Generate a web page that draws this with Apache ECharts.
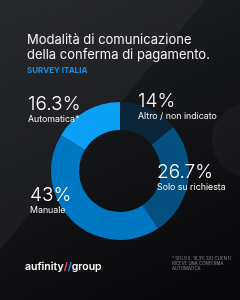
<!DOCTYPE html>
<html>
<head>
<meta charset="utf-8">
<script src="https://cdn.jsdelivr.net/npm/echarts@6/dist/echarts.min.js"></script>
<style>
  html, body { margin: 0; padding: 0; background: #111214; }
  #chart { width: 240px; height: 300px; }
</style>
</head>
<body>
<div id="chart"></div>
<script>
// dati del sondaggio
const categories = ['Altro / non indicato', 'Solo su richiesta', 'Manuale', 'Automatica*'];
const values = [14, 26.7, 43, 16.3];
const colors = ['#0c2539', '#035081', '#0077c2', '#0aa0f5'];
const labelPos = [[138, 92], [157, 163], [30, 186], [28, 95]];

const chart = echarts.init(document.getElementById('chart'));

// etichette come testo
const labels = categories.map((c, i) => ({
  type: 'text', left: labelPos[i][0], top: labelPos[i][1], z: 10,
  style: {
    text: '{v|' + values[i] + '%}\n{n|' + c + '}',
    rich: {
      v: { fontSize: 19, fill: '#ffffff', lineHeight: 20, fontFamily: 'Inter', fontWeight: 300 },
      n: { fontSize: 8.8, fill: '#f0f0f0', lineHeight: 10, fontFamily: 'Inter' }
    }
  }
}));

chart.setOption({
  backgroundColor: {
    type: 'linear', x: 0, y: 0, x2: 0.6, y2: 1,
    colorStops: [
      { offset: 0, color: '#222328' },
      { offset: 0.5, color: '#141518' },
      { offset: 1, color: '#0a0a0c' }
    ]
  },
  textStyle: { fontFamily: 'Inter' },
  graphic: [
    {
      type: 'polygon', silent: true, z: -1,
      shape: { points: [[0, 0], [205, 0], [0, 250]] },
      style: {
        fill: {
          type: 'linear', x: 0, y: 0, x2: 1, y2: 1,
          colorStops: [
            { offset: 0, color: 'rgba(255,255,255,0.03)' },
            { offset: 1, color: 'rgba(255,255,255,0.05)' }
          ]
        }
      }
    },
    {
      type: 'circle', silent: true, z: -1,
      shape: { cx: 250, cy: 140, r: 38 },
      style: { fill: 'rgba(255,255,255,0.035)' }
    },
    {
      type: 'text', left: 25, top: 261,
      style: {
        text: '{a|aufinity}{r|/}{b|/}{a|group}',
        rich: {
          a: { fontSize: 10.5, fontWeight: 600, fill: '#ffffff', fontFamily: 'Inter' },
          r: { fontSize: 10.5, fontWeight: 700, fill: '#e8485a', fontFamily: 'Inter' },
          b: { fontSize: 10.5, fontWeight: 700, fill: '#1e90e8', fontFamily: 'Inter' }
        }
      }
    },
    {
      type: 'text', left: 172, top: 256,
      style: {
        text: '* SOLO IL 16,3% DEI CLIENTI\nRICEVE UNA CONFERMA\nAUTOMATICA',
        fill: '#8a8b90', fontSize: 4.3, lineHeight: 5, fontFamily: 'Inter'
      }
    }
  ].concat(labels),
  title: {
    text: 'Modalità di comunicazione\ndella conferma di pagamento.',
    subtext: 'SURVEY ITALIA',
    left: 22, top: 28, itemGap: 4,
    textStyle: { color: '#f2f2f2', fontSize: 13, fontWeight: 400, lineHeight: 15, fontFamily: 'Inter' },
    subtextStyle: { color: '#1a8de6', fontSize: 8, fontWeight: 700, fontFamily: 'Inter' }
  },
  series: [{
    type: 'pie',
    center: [120, 171],
    radius: [41, 69],
    startAngle: 90,
    clockwise: true,
    silent: true,
    data: categories.map((c, i) => ({ name: c, value: values[i], itemStyle: { color: colors[i] } })),
    label: { show: false },
    labelLine: { show: false }
  }]
});
</script>
</body>
</html>
